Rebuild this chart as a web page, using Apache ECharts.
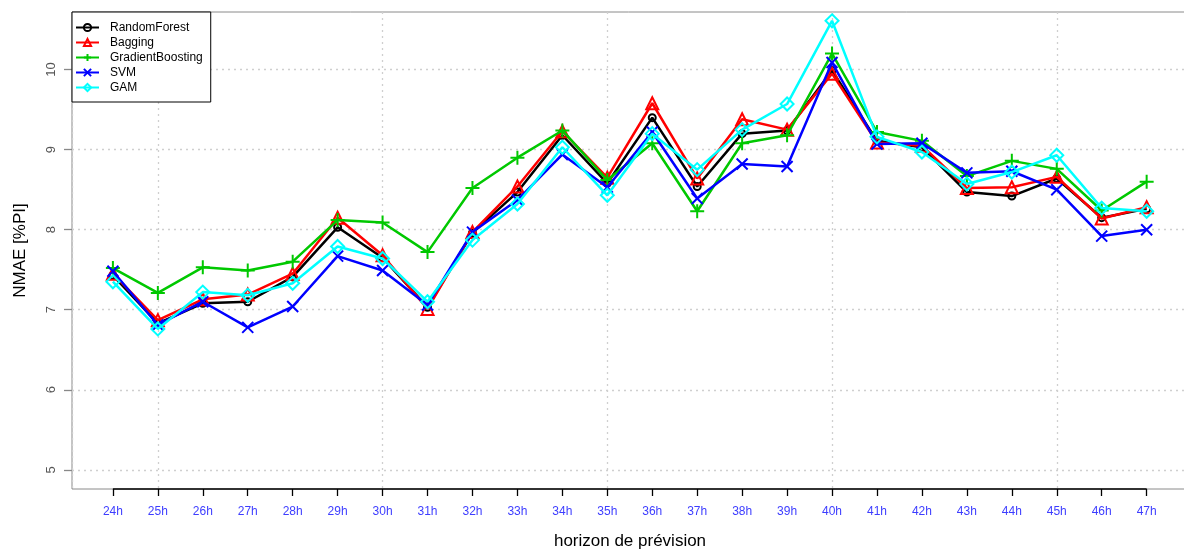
<!DOCTYPE html>
<html>
<head>
<meta charset="utf-8">
<script src="https://cdn.jsdelivr.net/npm/echarts@6/dist/echarts.min.js"></script>
<style>
html,body{margin:0;padding:0;background:#fff;}
#chart{width:1184px;height:551px;}
</style>
</head>
<body>
<div id="chart"></div>
<script>
// ---- data ----
const hours = [24,25,26,27,28,29,30,31,32,33,34,35,36,37,38,39,40,41,42,43,44,45,46,47];
const hourLabels = hours.map(h => h + 'h');
const yTicks = [5,6,7,8,9,10];
const seriesNames = ['RandomForest','Bagging','GradientBoosting','SVM','GAM'];
const randomForest = [7.43,6.83,7.08,7.10,7.41,8.03,7.65,7.03,7.96,8.47,9.18,8.58,9.40,8.54,9.20,9.24,9.99,9.11,9.03,8.47,8.42,8.64,8.15,8.26];
const bagging      = [7.45,6.87,7.13,7.19,7.45,8.15,7.68,7.01,7.97,8.54,9.23,8.65,9.58,8.64,9.38,9.25,9.95,9.09,9.05,8.52,8.53,8.66,8.14,8.28];
const gradientBoosting = [7.52,7.21,7.53,7.49,7.60,8.12,8.09,7.72,8.52,8.90,9.24,8.62,9.08,8.23,9.08,9.18,10.20,9.22,9.11,8.67,8.86,8.76,8.24,8.60];
const svm          = [7.48,6.81,7.10,6.78,7.04,7.67,7.49,7.06,7.97,8.37,8.94,8.53,9.22,8.39,8.82,8.79,10.09,9.07,9.08,8.71,8.73,8.50,7.92,8.00];
const gam          = [7.35,6.76,7.22,7.18,7.33,7.79,7.64,7.10,7.87,8.32,9.03,8.43,9.20,8.75,9.25,9.57,10.61,9.16,8.97,8.57,8.72,8.93,8.27,8.23];

const allValues = [randomForest,bagging,gradientBoosting,svm,gam];
const colors = ['#000000','#ff0000','#00c800','#0000ff','#00ffff'];
const symbols = ['circle','triangle','path://M5,0L5,10M0,5L10,5','path://M0,0L10,10M10,0L0,10','diamond'];
const symbolSizes = [7,12,14,11,13];

const FONT = '"Liberation Sans", Arial, sans-serif';
const chart = echarts.init(document.getElementById('chart'), null, {renderer:'canvas'});

const series = allValues.map((vals, i) => ({
  name: seriesNames[i],
  type: 'line',
  data: hours.map((h, k) => [h, vals[k]]),
  color: colors[i],
  symbol: symbols[i],
  symbolSize: symbolSizes[i],
  showAllSymbol: true,
  lineStyle: {color: colors[i], width: 2.5},
  itemStyle: {color: 'rgba(255,255,255,0)', borderColor: colors[i], borderWidth: 2},
  emphasis: {disabled: true},
  z: 3 + i,
  animation: false
}));

// black x-axis segment spanning the category range (R style axis)
series.push({
  name: '_axis',
  type: 'line',
  data: [[hours[0], 4.76], [hours[hours.length-1], 4.76]],
  symbol: 'none',
  lineStyle: {color: '#000', width: 1.3},
  clip: false,
  silent: true,
  z: 10,
  animation: false
});

const X_MIN = 23.09, X_MAX = 47.92;
const gridLine = {show: true, lineStyle: {color: '#cfcfcf', type: [2,4], width: 1.3}};

chart.setOption({
  animation: false,
  backgroundColor: '#fff',
  textStyle: {fontFamily: FONT},
  grid: {left: 72, right: -4, top: 12, bottom: 62, outerBoundsMode: 'none', containLabel: false,
         show: true, borderColor: '#8a8a8a', borderWidth: 1, backgroundColor: 'transparent'},
  legend: {
    data: seriesNames,
    orient: 'vertical',
    left: 72, top: 12,
    padding: [8, 8, 7, 3],
    itemGap: 0,
    itemWidth: 23, itemHeight: 9,
    backgroundColor: '#fff',
    borderColor: '#000', borderWidth: 1,
    textStyle: {fontFamily: FONT, fontSize: 12, color: '#000', lineHeight: 15, padding: [0,0,0,6]},
    selectedMode: false
  },
  xAxis: [{
    type: 'value',
    min: X_MIN, max: X_MAX,
    name: 'horizon de prévision',
    nameLocation: 'middle',
    nameGap: 44,
    nameTextStyle: {fontFamily: FONT, fontSize: 17, color: '#000'},
    axisLine: {show: false},
    axisTick: {show: true, customValues: hours, length: 7, lineStyle: {color: '#000', width: 1.3}},
    axisLabel: {customValues: hours, formatter: v => v + 'h', color: '#3d3dff', fontSize: 12, fontFamily: FONT, margin: 17},
    splitLine: {show: false}
  }, {
    type: 'value',
    position: 'bottom',
    min: X_MIN, max: X_MAX,
    splitNumber: 5,
    axisLine: {show: false},
    axisTick: {show: false},
    axisLabel: {show: false},
    splitLine: gridLine
  }],
  yAxis: {
    type: 'value',
    min: 4.76, max: 10.72,
    splitNumber: 5,
    name: 'NMAE [%PI]',
    nameLocation: 'middle',
    nameGap: 43,
    nameTextStyle: {fontFamily: FONT, fontSize: 17, color: '#000'},
    axisLine: {show: false},
    axisTick: {show: true, customValues: yTicks, length: 8, lineStyle: {color: '#888', width: 1.3}},
    axisLabel: {customValues: yTicks, rotate: 90, color: '#555', fontSize: 13, fontFamily: FONT, margin: 14},
    splitLine: gridLine
  },
  series: series
});
</script>
</body>
</html>
